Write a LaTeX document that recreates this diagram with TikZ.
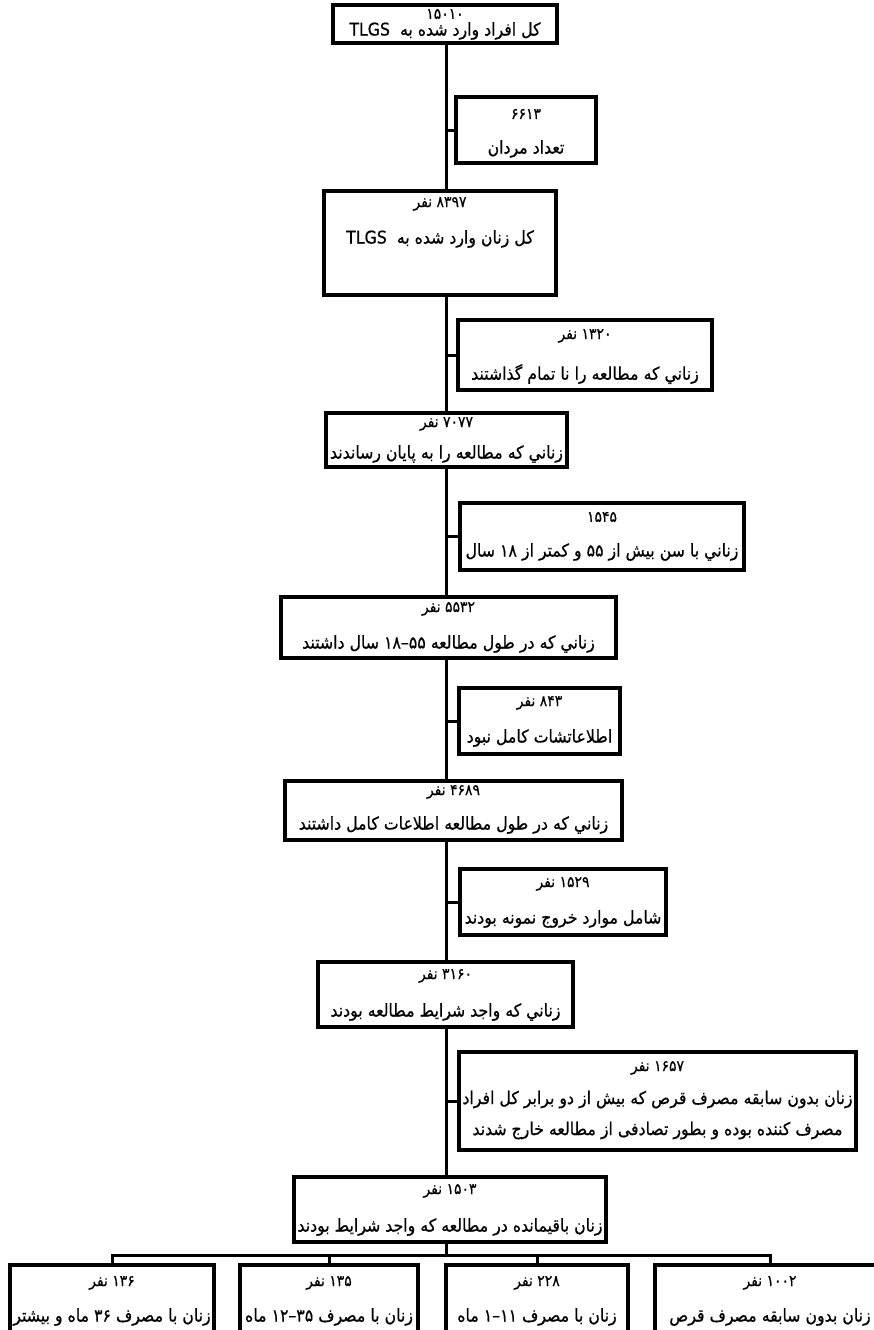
\documentclass[tikz,border=0pt]{standalone}
\usepackage{fontspec}
\TeXXeTstate=1
\newfontfamily\fa[Script=Arabic,FakeBold=0.6,FakeStretch=0.9]{DejaVu Sans}
\newcommand\RL[1]{\beginR #1\endR}
\newcommand\LR[1]{\beginL #1\endL}
\tikzset{
 box/.style={draw=black, line width=3.5pt, fill=white, inner sep=0pt, outer sep=0pt},
 conn/.style={draw=black, line width=3pt},
 numtxt/.style={font=\fa\fontsize{15.5}{17}\selectfont, inner sep=0pt},
 fatxt/.style={font=\fa\fontsize{17.5}{31}\selectfont, inner sep=0pt, align=center},
}
\newcommand\flowbox[9]{%
 \node[box, minimum width={#4-#2}, minimum height={#5-#3}] (#1) at ({(#2+#4)/2},{(#3+#5)/2}) {};
 \node[numtxt] (#1-a) at ({(#2+#4)/2},#6) {#8};
 \node[fatxt] (#1-b) at ({(#2+#4)/2},#7) {#9};
}
\begin{document}
\begin{tikzpicture}[x=1pt,y=-1pt]
\useasboundingbox (0,0) rectangle (873,1330);
\fill[white] (0,0) rectangle (873,1330);
\coordinate (tx) at (446,0);
\coordinate (bar) at (446,1255);
\flowbox{b1}{333}{5}{557}{43}{14}{31}{\LR{۱۵۰۱۰}}{\RL{کل افراد وارد شده به\ \ \LR{TLGS}}}
\flowbox{s1}{456}{97}{596}{163}{114}{149}{\LR{۶۶۱۳}}{\RL{تعداد مردان}}
\flowbox{b2}{324}{191}{556}{295}{204}{239}{\RL{\LR{۸۳۹۷} نفر}}{\RL{کل زنان وارد شده به\ \ \LR{TLGS}}}
\flowbox{s2}{458}{320}{712}{390}{336}{374}{\RL{\LR{۱۳۲۰} نفر}}{\RL{زناني که مطالعه را نا تمام گذاشتند}}
\flowbox{b3}{326}{413}{567}{467}{424}{454}{\RL{\LR{۷۰۷۷} نفر}}{\RL{زناني که مطالعه را به پایان رساندند}}
\flowbox{s3}{460}{503}{744}{570}{517}{552}{\LR{۱۵۴۵}}{\RL{زناني با سن بیش از \LR{۵۵} و کمتر از \LR{۱۸} سال}}
\flowbox{b4}{281}{597}{616}{658}{609}{644}{\RL{\LR{۵۵۳۲} نفر}}{\RL{زناني که در طول مطالعه \LR{۵۵–۱۸} سال داشتند}}
\flowbox{s4}{459}{688}{620}{754}{703}{738}{\RL{\LR{۸۴۳} نفر}}{\RL{اطلاعاتشات کامل نبود}}
\flowbox{b5}{285}{781}{622}{840}{792}{825}{\RL{\LR{۴۶۸۹} نفر}}{\RL{زناني که در طول مطالعه اطلاعات کامل داشتند}}
\flowbox{s5}{460}{869}{666}{935}{884}{919}{\RL{\LR{۱۵۲۹} نفر}}{\RL{شامل موارد خروج نمونه بودند}}
\flowbox{b6}{318}{962}{573}{1027}{976}{1012}{\RL{\LR{۳۱۶۰} نفر}}{\RL{زناني که واجد شرایط مطالعه بودند}}
\flowbox{s6}{459}{1052}{856}{1150}{1068}{1115}{\RL{\LR{۱۶۵۷} نفر}}{\RL{زنان بدون سابقه مصرف قرص که بیش از دو برابر کل افراد}\\ \RL{مصرف کننده بوده و بطور تصادفی از مطالعه خارج شدند}}
\flowbox{b7}{294}{1177}{606}{1242}{1191}{1227}{\RL{\LR{۱۵۰۳} نفر}}{\RL{زنان باقیمانده در مطالعه که واجد شرایط بودند}}
\flowbox{ba}{10}{1265}{214}{1345}{1283}{1317}{\RL{\LR{۱۳۶} نفر}}{\RL{زنان با مصرف \LR{۳۶} ماه و بیشتر}}
\flowbox{bb}{240}{1265}{418}{1345}{1283}{1317}{\RL{\LR{۱۳۵} نفر}}{\RL{زنان با مصرف \LR{۳۵–۱۲} ماه}}
\flowbox{bc}{446}{1265}{628}{1345}{1283}{1317}{\RL{\LR{۲۲۸} نفر}}{\RL{زنان با مصرف \LR{۱۱–۱} ماه}}
\flowbox{bd}{655}{1265}{885}{1345}{1283}{1317}{\RL{\LR{۱۰۰۲} نفر}}{\RL{زنان بدون سابقه مصرف قرص}}
% trunk
\draw[conn] (tx |- b1.south) -- (tx |- b2.north);
\draw[conn] (tx |- b2.south) -- (tx |- b3.north);
\draw[conn] (tx |- b3.south) -- (tx |- b4.north);
\draw[conn] (tx |- b4.south) -- (tx |- b5.north);
\draw[conn] (tx |- b5.south) -- (tx |- b6.north);
\draw[conn] (tx |- b6.south) -- (tx |- b7.north);
\draw[conn] (tx |- b7.south) -- (bar);
% side branches
\draw[conn] (tx |- s1.west) -- (s1.west);
\draw[conn] (tx |- s2.west) -- (s2.west);
\draw[conn] (tx |- s3.west) -- (s3.west);
\draw[conn] (tx |- s4.west) -- (s4.west);
\draw[conn] (tx |- s5.west) -- (s5.west);
\draw[conn] (tx |- s6.west) -- (s6.west);
% bottom distribution
\draw[conn] (ba.north) -- (ba.north |- bar) -- (bd.north |- bar) -- (bd.north);
\draw[conn] (bb.north) -- (bb.north |- bar);
\draw[conn] (bc.north) -- (bc.north |- bar);
\end{tikzpicture}
\end{document}
